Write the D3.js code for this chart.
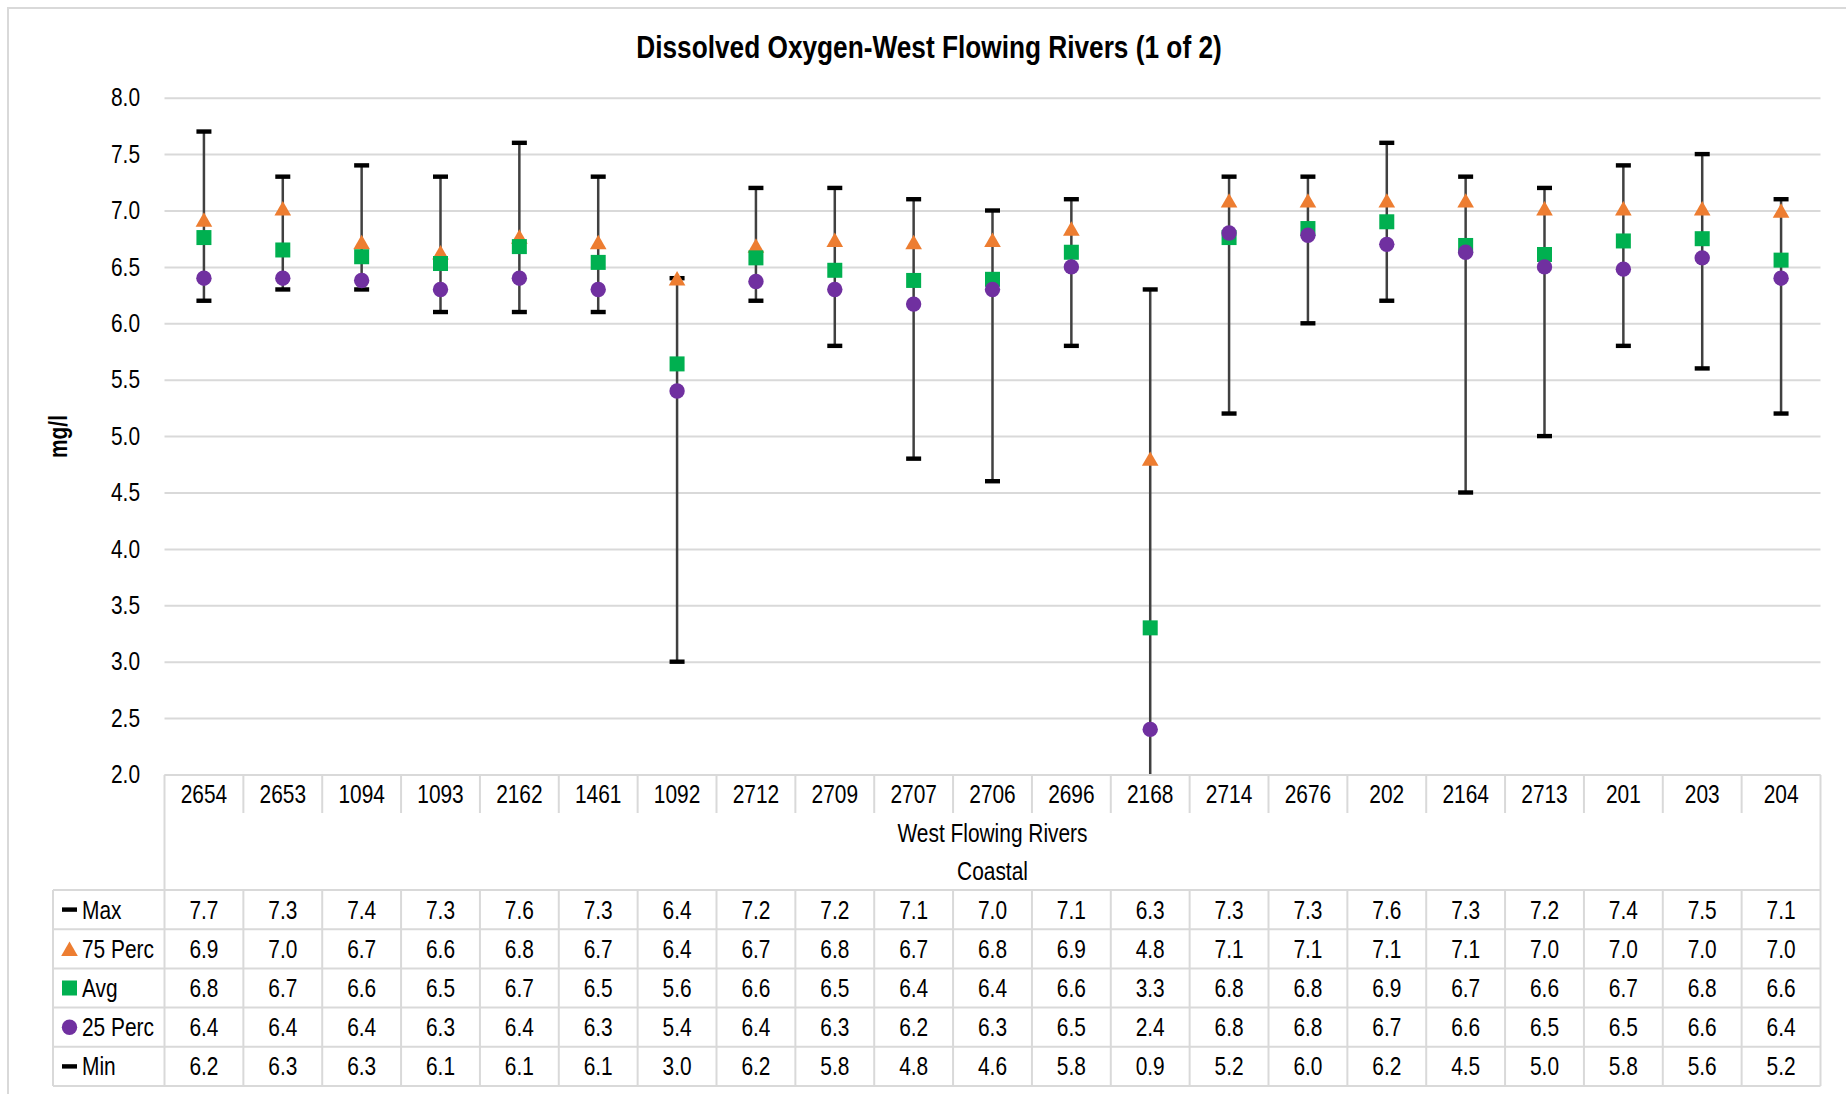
<!DOCTYPE html>
<html>
<head>
<meta charset="utf-8">
<script src="https://cdn.jsdelivr.net/npm/d3@7"></script>
<style>
  html, body { margin: 0; padding: 0; background: #fff; }
  svg text { font-family: "Liberation Sans", Arial, sans-serif; fill: #000; }
</style>
</head>
<body>
<svg id="chart" width="1846" height="1094"></svg>
<script>
// ---------- data ----------
const categories = ["2654","2653","1094","1093","2162","1461","1092","2712","2709","2707","2706","2696","2168","2714","2676","202","2164","2713","201","203","204"];
const groupLabel = "West Flowing Rivers";
const subGroupLabel = "Coastal";
const maxVals  = [7.7,7.3,7.4,7.3,7.6,7.3,6.4,7.2,7.2,7.1,7.0,7.1,6.3,7.3,7.3,7.6,7.3,7.2,7.4,7.5,7.1];
const p75Vals  = [6.92,7.02,6.72,6.63,6.77,6.72,6.40,6.69,6.74,6.72,6.74,6.84,4.80,7.09,7.09,7.09,7.09,7.02,7.02,7.02,7.00];
const avgVals  = [6.76,6.65,6.59,6.53,6.68,6.54,5.64,6.58,6.47,6.38,6.39,6.63,3.30,6.76,6.84,6.90,6.69,6.61,6.73,6.75,6.56];
const p25Vals  = [6.40,6.40,6.38,6.30,6.40,6.30,5.40,6.37,6.30,6.17,6.30,6.50,2.40,6.80,6.78,6.70,6.63,6.50,6.48,6.58,6.40];
const minVals  = [6.2,6.3,6.3,6.1,6.1,6.1,3.0,6.2,5.8,4.8,4.6,5.8,0.9,5.2,6.0,6.2,4.5,5.0,5.8,5.6,5.2];
// table texts (as shown, rounded to one decimal)
const maxText  = ["7.7","7.3","7.4","7.3","7.6","7.3","6.4","7.2","7.2","7.1","7.0","7.1","6.3","7.3","7.3","7.6","7.3","7.2","7.4","7.5","7.1"];
const p75Text  = ["6.9","7.0","6.7","6.6","6.8","6.7","6.4","6.7","6.8","6.7","6.8","6.9","4.8","7.1","7.1","7.1","7.1","7.0","7.0","7.0","7.0"];
const avgText  = ["6.8","6.7","6.6","6.5","6.7","6.5","5.6","6.6","6.5","6.4","6.4","6.6","3.3","6.8","6.8","6.9","6.7","6.6","6.7","6.8","6.6"];
const p25Text  = ["6.4","6.4","6.4","6.3","6.4","6.3","5.4","6.4","6.3","6.2","6.3","6.5","2.4","6.8","6.8","6.7","6.6","6.5","6.5","6.6","6.4"];
const minText  = ["6.2","6.3","6.3","6.1","6.1","6.1","3.0","6.2","5.8","4.8","4.6","5.8","0.9","5.2","6.0","6.2","4.5","5.0","5.8","5.6","5.2"];
const seriesNames = ["Max","75 Perc","Avg","25 Perc","Min"];
const yTicks = [2.0,2.5,3.0,3.5,4.0,4.5,5.0,5.5,6.0,6.5,7.0,7.5,8.0];
const title = "Dissolved Oxygen-West Flowing Rivers (1 of 2)";
const yTitle = "mg/l";

// ---------- layout ----------
const svg = d3.select("#chart");
const plotLeft = 164.5, plotRight = 1820.5, plotTop = 97.7, plotBottom = 774.5;
const tableLeft = 53, tableTop = 775, catRowBottom = 813, dataTop = 890, rowH = 39.2;
const colors = { p75: "#ED7D31", avg: "#00B050", p25: "#7030A0", line: "#404040", grid: "#D9D9D9" };
const NARROW = 0.82;   // horizontal condensing (Arial Narrow look)
const FS = 25.5;

const x = d3.scaleBand().domain(categories).range([plotLeft, plotRight]).padding(0);
const y = d3.scaleLinear().domain([2, 8]).range([plotBottom, plotTop]);

// narrow text helper
function txt(parent, tx, ty, str, opts = {}) {
  const t = parent.append("text")
    .attr("transform", `translate(${tx},${ty})${opts.rotate ? ` rotate(${opts.rotate})` : ""} scale(${NARROW},1)`)
    .attr("text-anchor", opts.anchor || "middle")
    .attr("font-size", opts.size || FS)
    .text(str);
  if (opts.bold) t.attr("font-weight", "bold");
  return t;
}

// outer frame (left/top visible)
svg.append("rect").attr("x", 8).attr("y", 8).attr("width", 1900).attr("height", 1200)
  .attr("fill", "none").attr("stroke", colors.grid).attr("stroke-width", 2);

// title
txt(svg, 929, 57.5, title, { size: 32, bold: true });

// y axis title
txt(svg, 66.5, 436.5, yTitle, { size: 25.5, bold: true, rotate: -90 });

// gridlines + tick labels via axis
const yAxis = d3.axisLeft(y).tickValues(yTicks).tickFormat(d3.format(".1f")).tickSize(-(plotRight - plotLeft)).tickPadding(24);
const gy = svg.append("g").attr("transform", `translate(${plotLeft},0)`).call(yAxis);
gy.select(".domain").remove();
gy.selectAll(".tick line").attr("stroke", colors.grid).attr("stroke-width", 2);
gy.selectAll(".tick text").attr("font-size", FS).attr("fill", "#000")
  .attr("font-family", '"Liberation Sans", Arial, sans-serif')
  .attr("x", -24.5 / NARROW).attr("transform", `scale(${NARROW},1)`);

// clip
svg.append("clipPath").attr("id", "plotclip").append("rect")
  .attr("x", plotLeft).attr("y", plotTop - 20).attr("width", plotRight - plotLeft).attr("height", plotBottom - plotTop + 20);
const marks = svg.append("g").attr("clip-path", "url(#plotclip)");
const cx = i => x(categories[i]) + x.bandwidth() / 2;
const idx = d3.range(categories.length);

// high-low lines
marks.selectAll("line.hl").data(idx).join("line")
  .attr("x1", cx).attr("x2", cx)
  .attr("y1", i => y(maxVals[i])).attr("y2", i => y(minVals[i]))
  .attr("stroke", colors.line).attr("stroke-width", 2.5);

// max & min dashes
const dash = (vals) => marks.selectAll(null).data(idx).join("rect")
  .attr("x", i => cx(i) - 7.5).attr("y", i => y(vals[i]) - 2.2)
  .attr("width", 15).attr("height", 4.4).attr("fill", "#000");
dash(maxVals); dash(minVals);

// 75 perc triangles
const tri = d3.symbol().type(d3.symbolTriangle).size(120);
marks.selectAll("path.p75").data(idx).join("path")
  .attr("transform", i => `translate(${cx(i)},${y(p75Vals[i]) + 2.4})`)
  .attr("d", tri).attr("fill", colors.p75);

// avg squares
marks.selectAll("rect.avg").data(idx).join("rect")
  .attr("x", i => cx(i) - 7.5).attr("y", i => y(avgVals[i]) - 7.5)
  .attr("width", 15).attr("height", 15).attr("fill", colors.avg);

// 25 perc circles
marks.selectAll("circle.p25").data(idx).join("circle")
  .attr("cx", cx).attr("cy", i => y(p25Vals[i])).attr("r", 7.7).attr("fill", colors.p25);

// ---------- data table ----------
const T = svg.append("g");
const gl = (x1, y1, x2, y2) => T.append("line").attr("x1", x1).attr("y1", y1).attr("x2", x2).attr("y2", y2)
  .attr("stroke", colors.grid).attr("stroke-width", 2);

// category row
gl(plotLeft, tableTop, plotRight, tableTop);
categories.forEach((c, i) => {
  const bx = x(c);
  if (i > 0) gl(bx, tableTop, bx, catRowBottom);
  txt(T, cx(i), 803, c);
});
gl(plotLeft, tableTop, plotLeft, dataTop + rowH * 5);
gl(plotRight, tableTop, plotRight, dataTop + rowH * 5);
txt(T, (plotLeft + plotRight) / 2, 841.5, groupLabel);
txt(T, (plotLeft + plotRight) / 2, 879.5, subGroupLabel);

// data rows
const rowsText = [maxText, p75Text, avgText, p25Text, minText];
for (let r = 0; r <= 5; r++) gl(tableLeft, dataTop + r * rowH, plotRight, dataTop + r * rowH);
gl(tableLeft, dataTop, tableLeft, dataTop + rowH * 5);
categories.forEach((c, i) => { if (i > 0) gl(x(c), dataTop, x(c), dataTop + rowH * 5); });
rowsText.forEach((arr, r) => {
  const cyRow = dataTop + r * rowH + rowH / 2;
  arr.forEach((t, i) => txt(T, cx(i), cyRow + 9, t));
  // legend key
  const kx = 69.5;
  if (r === 0 || r === 4) T.append("rect").attr("x", kx - 7.5).attr("y", cyRow - 2.2).attr("width", 15).attr("height", 4.4).attr("fill", "#000");
  if (r === 1) T.append("path").attr("transform", `translate(${kx},${cyRow + 2.4})`).attr("d", tri).attr("fill", colors.p75);
  if (r === 2) T.append("rect").attr("x", kx - 7.5).attr("y", cyRow - 7.5).attr("width", 15).attr("height", 15).attr("fill", colors.avg);
  if (r === 3) T.append("circle").attr("cx", kx).attr("cy", cyRow).attr("r", 7.7).attr("fill", colors.p25);
  txt(T, 82, cyRow + 9, seriesNames[r], { anchor: "start" });
});
</script>
</body>
</html>
